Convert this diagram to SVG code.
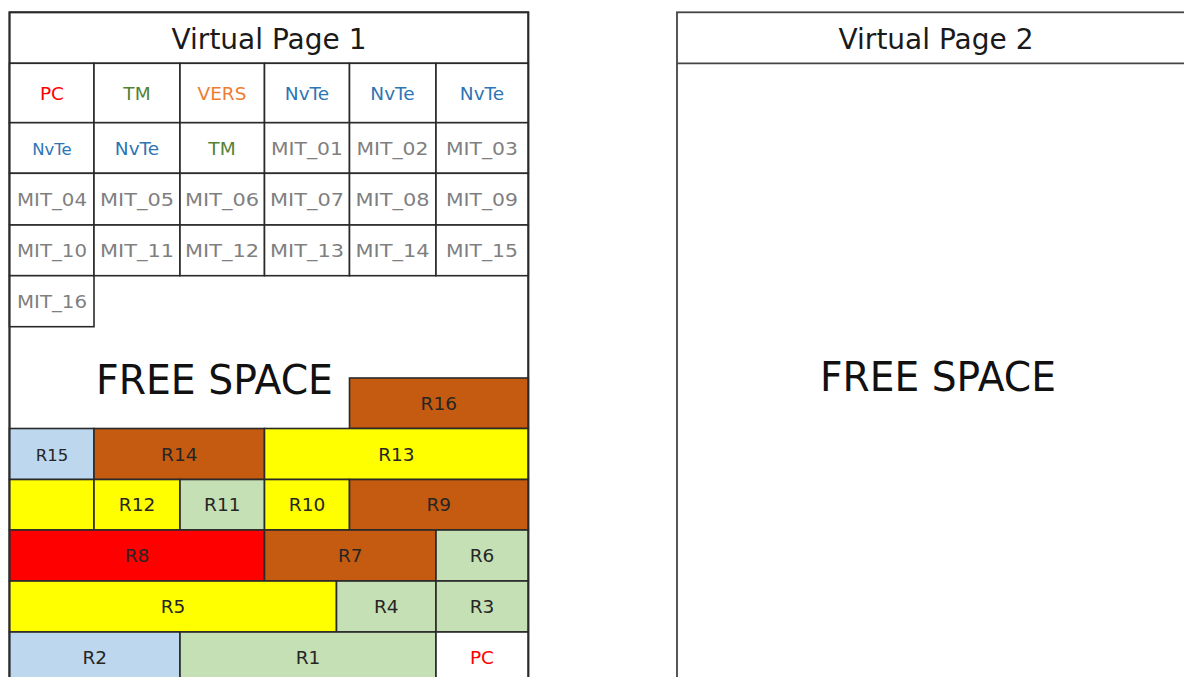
<svg xmlns="http://www.w3.org/2000/svg" width="1184" height="677" viewBox="0 0 1184 677">
<style>
.ln{fill:none;stroke:#2a2a2a;stroke-width:1.8}
.cell{stroke:#2a2a2a;stroke-width:1.6}
.w{fill:#ffffff}
.br{fill:#c55a11}
.ye{fill:#ffff00}
.gr{fill:#c5e0b4}
.bl{fill:#bdd7ee}
.rd{fill:#ff0000}
text{font-family:"DejaVu Sans","Verdana",sans-serif;text-anchor:middle}
.t{font-size:18.5px}
.hd{font-size:28px;fill:#1a1a1a}
.fs{font-size:40px;fill:#111111}
.pc{fill:#ff0000}
.tm{fill:#548235}
.vs{fill:#ed7d31}
.nv{fill:#2e75b6}
.mit{fill:#7f7f7f}
.r{fill:#262626}
</style>
<rect width="1184" height="677" fill="#ffffff"/>

<g id="page1">
  <rect class="ln" x="9.5" y="12.3" width="518.8" height="680"/>
  <line class="ln" x1="9.5" y1="63.3" x2="528.3" y2="63.3"/>
  <text class="hd" x="269" y="49">Virtual Page 1</text>
</g>

<g id="page1-header-grid">
  <g id="row1">
    <rect class="cell w" x="9.5" y="63.3" width="84.5" height="59.4"/>
    <rect class="cell w" x="94" y="63.3" width="86" height="59.4"/>
    <rect class="cell w" x="180" y="63.3" width="84.5" height="59.4"/>
    <rect class="cell w" x="264.5" y="63.3" width="85" height="59.4"/>
    <rect class="cell w" x="349.5" y="63.3" width="86.5" height="59.4"/>
    <rect class="cell w" x="436" y="63.3" width="92.3" height="59.4"/>
    <text class="t pc" x="52" y="99.5">PC</text>
    <text class="t tm" x="137" y="99.5">TM</text>
    <text class="t vs" x="222" y="99.5">VERS</text>
    <text class="t nv" x="307" y="99.5">NvTe</text>
    <text class="t nv" x="392.5" y="99.5">NvTe</text>
    <text class="t nv" x="482" y="99.5">NvTe</text>
  </g>
  <g id="row2">
    <rect class="cell w" x="9.5" y="122.7" width="84.5" height="50.6"/>
    <rect class="cell w" x="94" y="122.7" width="86" height="50.6"/>
    <rect class="cell w" x="180" y="122.7" width="84.5" height="50.6"/>
    <rect class="cell w" x="264.5" y="122.7" width="85" height="50.6"/>
    <rect class="cell w" x="349.5" y="122.7" width="86.5" height="50.6"/>
    <rect class="cell w" x="436" y="122.7" width="92.3" height="50.6"/>
    <text class="t nv" x="52" y="154.5" style="font-size:16.5px">NvTe</text>
    <text class="t nv" x="137" y="154.5">NvTe</text>
    <text class="t tm" x="222" y="154.5">TM</text>
    <text class="t mit" x="307" y="154.5" textLength="72" lengthAdjust="spacingAndGlyphs">MIT_01</text>
    <text class="t mit" x="392.5" y="154.5" textLength="72" lengthAdjust="spacingAndGlyphs">MIT_02</text>
    <text class="t mit" x="482" y="154.5" textLength="72" lengthAdjust="spacingAndGlyphs">MIT_03</text>
  </g>
  <g id="row3">
    <rect class="cell w" x="9.5" y="173.3" width="84.5" height="51.7"/>
    <rect class="cell w" x="94" y="173.3" width="86" height="51.7"/>
    <rect class="cell w" x="180" y="173.3" width="84.5" height="51.7"/>
    <rect class="cell w" x="264.5" y="173.3" width="85" height="51.7"/>
    <rect class="cell w" x="349.5" y="173.3" width="86.5" height="51.7"/>
    <rect class="cell w" x="436" y="173.3" width="92.3" height="51.7"/>
    <text class="t mit" x="52" y="205.5" textLength="70" lengthAdjust="spacingAndGlyphs">MIT_04</text>
    <text class="t mit" x="137" y="205.5" textLength="74" lengthAdjust="spacingAndGlyphs">MIT_05</text>
    <text class="t mit" x="222" y="205.5" textLength="74" lengthAdjust="spacingAndGlyphs">MIT_06</text>
    <text class="t mit" x="307" y="205.5" textLength="74" lengthAdjust="spacingAndGlyphs">MIT_07</text>
    <text class="t mit" x="392.5" y="205.5" textLength="74" lengthAdjust="spacingAndGlyphs">MIT_08</text>
    <text class="t mit" x="482" y="205.5" textLength="72" lengthAdjust="spacingAndGlyphs">MIT_09</text>
  </g>
  <g id="row4">
    <rect class="cell w" x="9.5" y="225" width="84.5" height="50.7"/>
    <rect class="cell w" x="94" y="225" width="86" height="50.7"/>
    <rect class="cell w" x="180" y="225" width="84.5" height="50.7"/>
    <rect class="cell w" x="264.5" y="225" width="85" height="50.7"/>
    <rect class="cell w" x="349.5" y="225" width="86.5" height="50.7"/>
    <rect class="cell w" x="436" y="225" width="92.3" height="50.7"/>
    <text class="t mit" x="52" y="256.5" textLength="70" lengthAdjust="spacingAndGlyphs">MIT_10</text>
    <text class="t mit" x="137" y="256.5" textLength="74" lengthAdjust="spacingAndGlyphs">MIT_11</text>
    <text class="t mit" x="222" y="256.5" textLength="74" lengthAdjust="spacingAndGlyphs">MIT_12</text>
    <text class="t mit" x="307" y="256.5" textLength="74" lengthAdjust="spacingAndGlyphs">MIT_13</text>
    <text class="t mit" x="392.5" y="256.5" textLength="74" lengthAdjust="spacingAndGlyphs">MIT_14</text>
    <text class="t mit" x="482" y="256.5" textLength="72" lengthAdjust="spacingAndGlyphs">MIT_15</text>
  </g>
  <g id="row5">
    <rect class="cell w" x="9.5" y="275.7" width="84.5" height="51"/>
    <text class="t mit" x="52" y="307.5" textLength="70" lengthAdjust="spacingAndGlyphs">MIT_16</text>
  </g>
</g>

<g id="free-space-1">
  <text class="fs" x="214.5" y="394" textLength="237" lengthAdjust="spacingAndGlyphs">FREE SPACE</text>
</g>

<g id="records">
  <g id="R16"><rect class="cell br" x="349.5" y="378" width="178.8" height="50.5"/><text class="t r" x="438.8" y="410">R16</text></g>
  <g id="R15"><rect class="cell bl" x="9.5" y="428.5" width="84.5" height="51"/><text class="t r" x="52" y="460.5" style="font-size:16.5px">R15</text></g>
  <g id="R14"><rect class="cell br" x="94" y="428.5" width="170.5" height="51"/><text class="t r" x="179.3" y="460.5">R14</text></g>
  <g id="R13"><rect class="cell ye" x="264.5" y="428.5" width="263.8" height="51"/><text class="t r" x="396.4" y="460.5">R13</text></g>

  <g id="R-blank"><rect class="cell ye" x="9.5" y="479.5" width="84.5" height="50.5"/></g>
  <g id="R12"><rect class="cell ye" x="94" y="479.5" width="86" height="50.5"/><text class="t r" x="137" y="511">R12</text></g>
  <g id="R11"><rect class="cell gr" x="180" y="479.5" width="84.5" height="50.5"/><text class="t r" x="222.3" y="511">R11</text></g>
  <g id="R10"><rect class="cell ye" x="264.5" y="479.5" width="85" height="50.5"/><text class="t r" x="307" y="511">R10</text></g>
  <g id="R9"><rect class="cell br" x="349.5" y="479.5" width="178.8" height="50.5"/><text class="t r" x="438.8" y="511">R9</text></g>

  <g id="R8"><rect class="cell rd" x="9.5" y="530" width="255" height="51"/><text class="t r" x="137" y="562">R8</text></g>
  <g id="R7"><rect class="cell br" x="264.5" y="530" width="171.5" height="51"/><text class="t r" x="350.3" y="562">R7</text></g>
  <g id="R6"><rect class="cell gr" x="436" y="530" width="92.3" height="51"/><text class="t r" x="482" y="562">R6</text></g>

  <g id="R5"><rect class="cell ye" x="9.5" y="581" width="327" height="51"/><text class="t r" x="173" y="613">R5</text></g>
  <g id="R4"><rect class="cell gr" x="336.5" y="581" width="99.5" height="51"/><text class="t r" x="386.3" y="613">R4</text></g>
  <g id="R3"><rect class="cell gr" x="436" y="581" width="92.3" height="51"/><text class="t r" x="482" y="613">R3</text></g>

  <g id="R2"><rect class="cell bl" x="9.5" y="632" width="170.5" height="60"/><text class="t r" x="94.8" y="664">R2</text></g>
  <g id="R1"><rect class="cell gr" x="180" y="632" width="256" height="60"/><text class="t r" x="308" y="664">R1</text></g>
  <g id="PC-end"><rect class="cell w" x="436" y="632" width="92.3" height="60"/><text class="t pc" x="482" y="664">PC</text></g>
</g>

<g id="page1-border">
  <rect class="ln" x="9.5" y="12.3" width="518.8" height="680"/>
</g>

<g id="page2">
  <rect class="ln" x="677" y="12.3" width="530" height="680" style="stroke:#444444"/>
  <line class="ln" x1="677" y1="63.3" x2="1190" y2="63.3" style="stroke:#444444"/>
  <text class="hd" x="936" y="48.5">Virtual Page 2</text>
  <text class="fs" x="938" y="391" textLength="236" lengthAdjust="spacingAndGlyphs">FREE SPACE</text>
</g>

<g id="connectors"></g>
</svg>
